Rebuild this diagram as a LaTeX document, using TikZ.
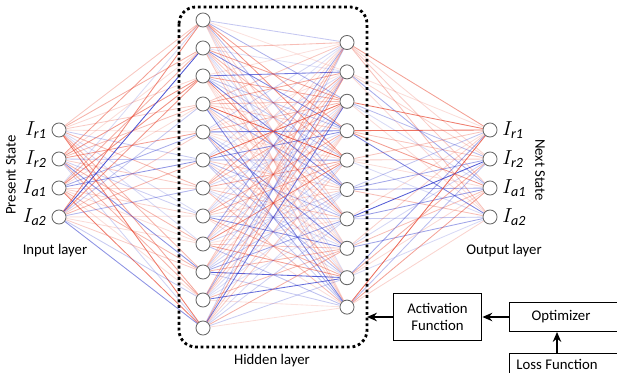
\documentclass[tikz,border=0pt]{standalone}
\usepackage{fontspec}
\setmainfont{Carlito}
\usetikzlibrary{positioning,arrows.meta,backgrounds}

\definecolor{wred}{RGB}{232,70,48}
\definecolor{wblue}{RGB}{48,58,205}

\tikzset{
  neuron/.style={circle,draw=black!60,fill=white,line width=0.6pt,minimum size=10pt,inner sep=0pt},
  wire/.style={line width=0.6pt},
  blockbox/.style={draw,line width=0.8pt,align=center,font=\fontsize{10.5}{12.5}\selectfont},
  flow/.style={-{Stealth[length=7pt,width=6pt]},line width=1.2pt},
  lbl/.style={font=\fontsize{10.5}{12}\selectfont},
  state/.style={font=\Large}
}

\begin{document}
\begin{tikzpicture}[x=0.025cm,y=-0.025cm]

% Frame
\clip (0,0) rectangle (617,373);

% Input layer
\foreach \i/\y in {1/130,2/159,3/188,4/217}
{
\node[neuron] (in\i) at (59,\y) {};
}

% Hidden layer, first column
\foreach \j in {1,...,12}
{
\node[neuron] (ha\j) at (203,{20+28*(\j-1)}) {};
}

% Hidden layer, second column
\foreach \k in {1,...,10}
{
\node[neuron] (hb\k) at (347,{42.5+29.4*(\k-1)}) {};
}

% Output layer
\foreach \i/\y in {1/130,2/159,3/188,4/217}
{
\node[neuron] (out\i) at (490,\y) {};
}

% Weights
\pgfmathsetseed{4242}
\begin{pgfonlayer}{background}
\foreach \i in {1,...,4}
{
\foreach \j in {1,...,12}
{
\pgfmathsetmacro\c{rnd}
\pgfmathsetmacro\o{0.18+0.75*rnd*rnd}
\ifdim\c pt<0.62pt \def\col{wred}\else\def\col{wblue}\fi
\draw[wire,draw=\col,draw opacity=\o] (in\i) -- (ha\j);
}
}
\foreach \j in {1,...,12}
{
\foreach \k in {1,...,10}
{
\pgfmathsetmacro\c{rnd}
\pgfmathsetmacro\o{0.15+0.75*rnd*rnd}
\ifdim\c pt<0.62pt \def\col{wred}\else\def\col{wblue}\fi
\draw[wire,draw=\col,draw opacity=\o] (ha\j) -- (hb\k);
}
}
\foreach \k in {1,...,10}
{
\foreach \i in {1,...,4}
{
\pgfmathsetmacro\c{rnd}
\pgfmathsetmacro\o{0.18+0.75*rnd*rnd}
\ifdim\c pt<0.62pt \def\col{wred}\else\def\col{wblue}\fi
\draw[wire,draw=\col,draw opacity=\o] (hb\k) -- (out\i);
}
}
\end{pgfonlayer}

% State labels
\node[state,left=0pt of in1] (lin1) {$I_{\mathit{r1}}$};
\node[state,left=0pt of in2] (lin2) {$I_{\mathit{r2}}$};
\node[state,left=0pt of in3] (lin3) {$I_{\mathit{a1}}$};
\node[state,left=0pt of in4] (lin4) {$I_{\mathit{a2}}$};
\node[state,right=0pt of out1] (lout1) {$I_{\mathit{r1}}$};
\node[state,right=0pt of out2] (lout2) {$I_{\mathit{r2}}$};
\node[state,right=0pt of out3] (lout3) {$I_{\mathit{a1}}$};
\node[state,right=0pt of out4] (lout4) {$I_{\mathit{a2}}$};

\node[lbl,rotate=90] (present) at (11,175) {Present State};
\node[lbl,rotate=-90] (next) at (540,170) {Next State};
\node[lbl] (inlayer) at (55,251) {Input layer};
\node[lbl] (outlayer) at (504,251) {Output layer};

% Hidden layer frame
\draw[line width=2pt,dotted,rounded corners=12pt] (179,7) rectangle (367,347);
\coordinate (hidedge) at (367,317);
\node[lbl] (hidlayer) at (272,361) {Hidden layer};

% Training blocks
\node[blockbox,minimum width=89pt*0.709,minimum height=48pt*0.709] (act) at (437.5,317) {Activation\\Function};
\node[blockbox,minimum width=112pt*0.709,minimum height=29pt*0.709,anchor=west] (opt) at (509,317) {};
\node[lbl] (opttxt) at (561,317) {Optimizer};
\node[blockbox,minimum width=112pt*0.709,minimum height=30pt*0.709,anchor=north west] (loss) at (509,353) {};
\node[lbl] (losstxt) at (557,364) {Loss Function};

\draw[flow] (act.west) -- (hidedge);
\draw[flow] (opt.west) -- (act.east);
\draw[flow] (loss.north -| losstxt) -- (opt.south -| losstxt);

\end{tikzpicture}
\end{document}
